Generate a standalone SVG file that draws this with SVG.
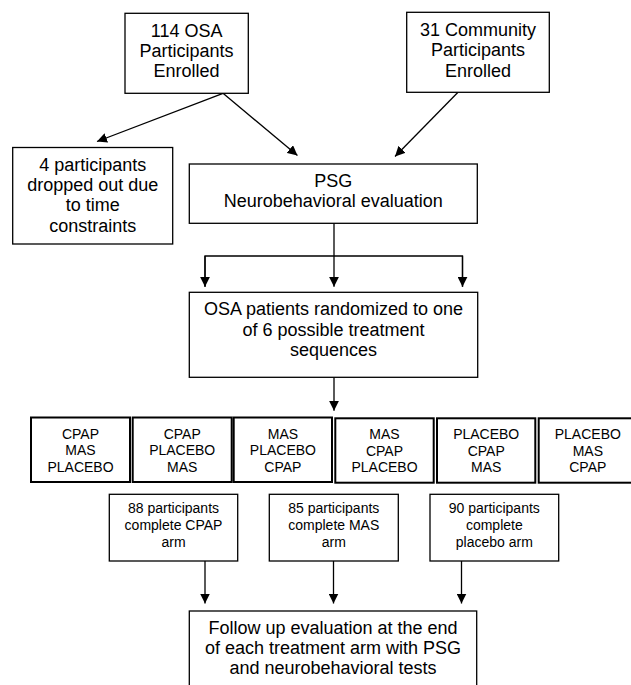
<svg xmlns="http://www.w3.org/2000/svg" width="631" height="685" viewBox="0 0 631 685">
<defs>
<style>
.box{fill:#fff;stroke:#000;stroke-width:1.3}
.seq{fill:#fff;stroke:#000;stroke-width:2}
.t{font-family:"Liberation Sans",Arial,sans-serif;font-size:18px;text-anchor:middle;fill:#000}
.s{font-family:"Liberation Sans",Arial,sans-serif;font-size:14px;text-anchor:middle;fill:#000}
.c{fill:none;stroke:#000;stroke-width:1.3}
</style>
<marker id="arr" viewBox="0 0 10 10" refX="10" refY="5" markerWidth="10" markerHeight="10" orient="auto" markerUnits="userSpaceOnUse"><path d="M0,0 L10,5 L0,10 z" fill="#000"/></marker>
</defs>
<rect width="631" height="685" fill="#fff"/>
<g id="connectors">
<line class="c" x1="223" y1="93.3" x2="97" y2="141.5" marker-end="url(#arr)"/>
<line class="c" x1="223" y1="93.3" x2="297.5" y2="155.5" marker-end="url(#arr)"/>
<line class="c" x1="458" y1="92.3" x2="395" y2="156.5" marker-end="url(#arr)"/>
<line class="c" x1="334" y1="223.3" x2="334" y2="286.7" marker-end="url(#arr)"/>
<polyline class="c" points="205,286.7 205,256 462.5,256 462.5,286.7"/>
<line class="c" x1="205" y1="256" x2="205" y2="286.7" marker-end="url(#arr)"/>
<line class="c" x1="462.5" y1="256" x2="462.5" y2="286.7" marker-end="url(#arr)"/>
<line class="c" x1="334" y1="377.3" x2="334" y2="410.7" marker-end="url(#arr)"/>
<line class="c" x1="205" y1="561" x2="205" y2="603.5" marker-end="url(#arr)"/>
<line class="c" x1="333.5" y1="561" x2="333.5" y2="603.5" marker-end="url(#arr)"/>
<line class="c" x1="461.5" y1="561" x2="461.5" y2="603.5" marker-end="url(#arr)"/>
</g>
<g id="osa">
<rect class="box" x="125" y="13.3" width="123.3" height="80"/>
<text class="t" x="186.6" y="36.7">114 OSA</text>
<text class="t" x="186.6" y="56.7">Participants</text>
<text class="t" x="186.6" y="77">Enrolled</text>
</g>
<g id="community">
<rect class="box" x="406.7" y="12.3" width="142.6" height="80"/>
<text class="t" x="478" y="36.3">31 Community</text>
<text class="t" x="478" y="56.3">Participants</text>
<text class="t" x="478" y="76.5">Enrolled</text>
</g>
<g id="dropout">
<rect class="box" x="12.7" y="147.5" width="160" height="96.5"/>
<text class="t" x="92.7" y="170.7">4 participants</text>
<text class="t" x="92.7" y="191">dropped out due</text>
<text class="t" x="92.7" y="211.3">to time</text>
<text class="t" x="92.7" y="231.7">constraints</text>
</g>
<g id="psg">
<rect class="box" x="189.3" y="164" width="288" height="59.3"/>
<text class="t" x="333.3" y="186.7">PSG</text>
<text class="t" x="333.3" y="206.7">Neurobehavioral evaluation</text>
</g>
<g id="randomized">
<rect class="box" x="189.3" y="292.3" width="288.4" height="85"/>
<text class="t" x="333.5" y="315">OSA patients randomized to one</text>
<text class="t" x="333.5" y="335.5">of 6 possible treatment</text>
<text class="t" x="333.5" y="356">sequences</text>
</g>
<g id="seq1">
<rect class="seq" x="31" y="417.5" width="99" height="64.5"/>
<text class="s" x="80.5" y="438.5">CPAP</text>
<text class="s" x="80.5" y="455.2">MAS</text>
<text class="s" x="80.5" y="471.9">PLACEBO</text>
</g>
<g id="seq2">
<rect class="seq" x="132.7" y="417.5" width="99" height="64.5"/>
<text class="s" x="182.2" y="438.5">CPAP</text>
<text class="s" x="182.2" y="455.2">PLACEBO</text>
<text class="s" x="182.2" y="471.9">MAS</text>
</g>
<g id="seq3">
<rect class="seq" x="233.7" y="417.5" width="98.3" height="64.5"/>
<text class="s" x="282.9" y="438.5">MAS</text>
<text class="s" x="282.9" y="455.2">PLACEBO</text>
<text class="s" x="282.9" y="471.9">CPAP</text>
</g>
<g id="seq4">
<rect class="seq" x="335.3" y="418.3" width="98.4" height="64.4"/>
<text class="s" x="384.5" y="439">MAS</text>
<text class="s" x="384.5" y="455.5">CPAP</text>
<text class="s" x="384.5" y="472">PLACEBO</text>
</g>
<g id="seq5">
<rect class="seq" x="437" y="418.3" width="98.3" height="64.4"/>
<text class="s" x="486.2" y="439">PLACEBO</text>
<text class="s" x="486.2" y="455.5">CPAP</text>
<text class="s" x="486.2" y="472">MAS</text>
</g>
<g id="seq6">
<rect class="seq" x="538.7" y="418.3" width="98.3" height="64.4"/>
<text class="s" x="587.8" y="439">PLACEBO</text>
<text class="s" x="587.8" y="455.5">MAS</text>
<text class="s" x="587.8" y="472">CPAP</text>
</g>
<g id="cpap-arm">
<rect class="box" x="109.3" y="494.3" width="128.4" height="66.7"/>
<text class="s" x="173.5" y="513.3">88 participants</text>
<text class="s" x="173.5" y="530">complete CPAP</text>
<text class="s" x="173.5" y="546.7">arm</text>
</g>
<g id="mas-arm">
<rect class="box" x="269.3" y="494.3" width="129" height="66.7"/>
<text class="s" x="333.8" y="513.3">85 participants</text>
<text class="s" x="333.8" y="530">complete MAS</text>
<text class="s" x="333.8" y="546.7">arm</text>
</g>
<g id="placebo-arm">
<rect class="box" x="430" y="494.3" width="128.7" height="66.7"/>
<text class="s" x="494.3" y="513.3">90 participants</text>
<text class="s" x="494.3" y="530">complete</text>
<text class="s" x="494.3" y="546.7">placebo arm</text>
</g>
<g id="followup">
<rect class="box" x="189.3" y="611" width="287.4" height="90"/>
<text class="t" x="333" y="634">Follow up evaluation at the end</text>
<text class="t" x="333" y="654">of each treatment arm with PSG</text>
<text class="t" x="333" y="674">and neurobehavioral tests</text>
</g>
</svg>
